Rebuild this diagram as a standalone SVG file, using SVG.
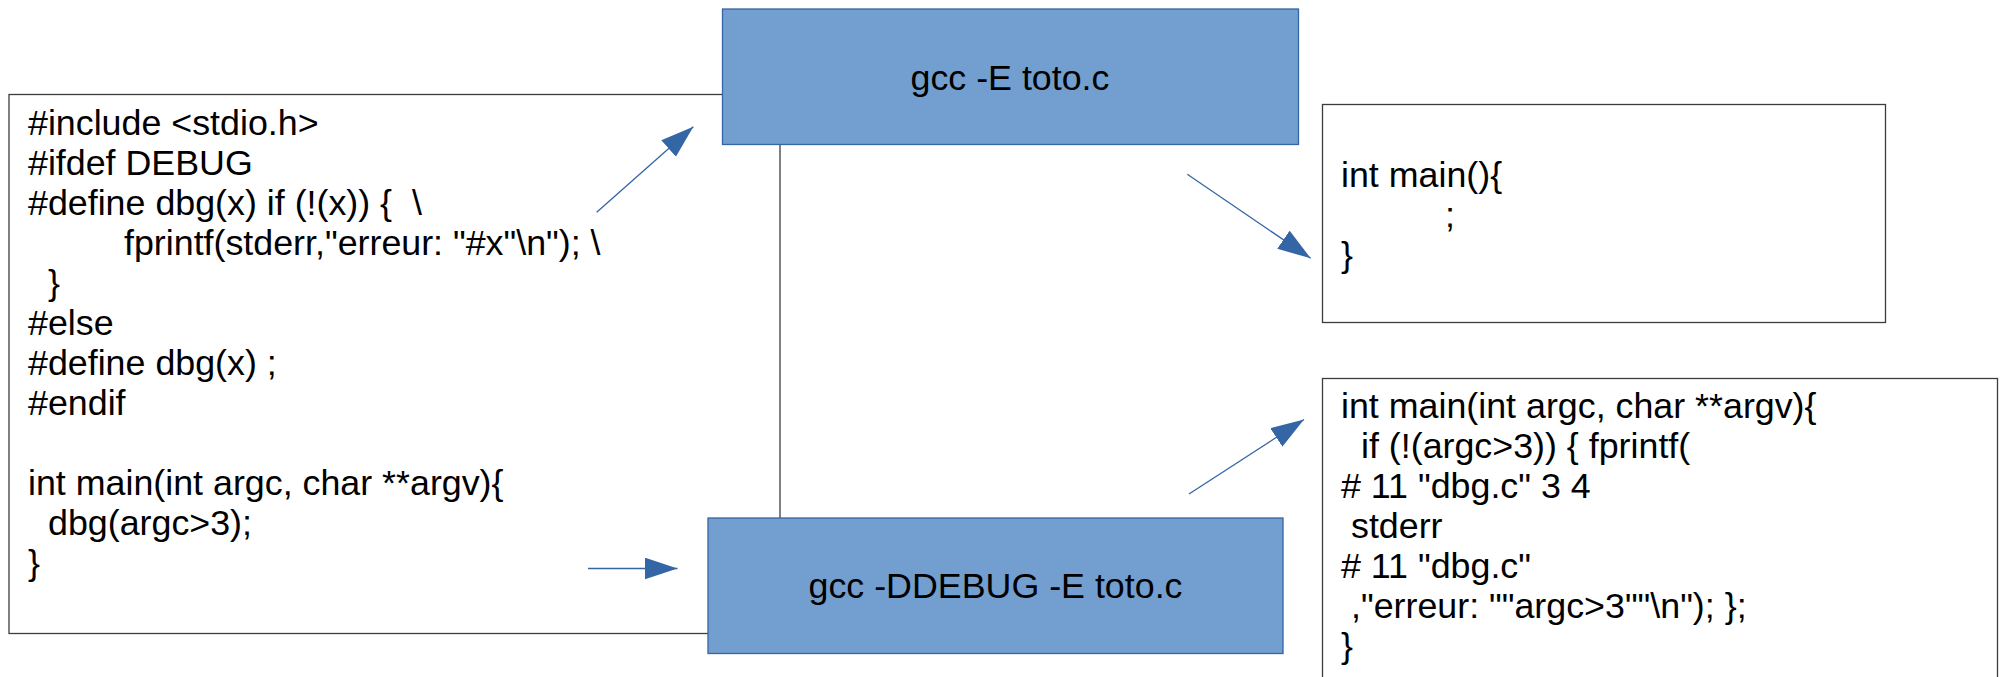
<svg xmlns="http://www.w3.org/2000/svg" width="2005" height="677" viewBox="0 0 2005 677">
<style>
.box{fill:#ffffff;stroke:#3c3c3c;stroke-width:1.3}
.cmd{fill:#729fcf;stroke:#3465a4;stroke-width:1.3}
.t{font-family:"Liberation Sans",Arial,sans-serif;font-size:35.8px;fill:#000000}
.c{text-anchor:middle}
.arr{stroke:#3465a4;stroke-width:1.3;fill:none;marker-end:url(#ah)}
</style>
<defs>
<marker id="ah" markerUnits="userSpaceOnUse" markerWidth="34" markerHeight="23" refX="33" refY="11" orient="auto">
<path d="M0,0 L33,11 L0,22 z" fill="#3465a4"/>
</marker>
</defs>
<rect width="2005" height="677" fill="#ffffff"/>
<g id="source">
<rect class="box" x="9" y="94.5" width="771" height="539"/>
<text class="t" x="28" y="135">#include &lt;stdio.h&gt;</text>
<text class="t" x="28" y="175">#ifdef DEBUG</text>
<text class="t" x="28" y="215" xml:space="preserve">#define dbg(x) if (!(x)) {  \</text>
<text class="t" x="124" y="255">fprintf(stderr,"erreur: "#x"\n"); \</text>
<text class="t" x="48" y="295">}</text>
<text class="t" x="28" y="335">#else</text>
<text class="t" x="28" y="375">#define dbg(x) ;</text>
<text class="t" x="28" y="415">#endif</text>
<text class="t" x="28" y="495">int main(int argc, char **argv){</text>
<text class="t" x="48" y="535">dbg(argc&gt;3);</text>
<text class="t" x="28" y="575">}</text>
</g>
<g id="out-nodebug">
<rect class="box" x="1322.5" y="104.5" width="563" height="218"/>
<text class="t" x="1341" y="187">int main(){</text>
<text class="t" x="1445" y="227">;</text>
<text class="t" x="1341" y="267">}</text>
</g>
<g id="out-debug">
<rect class="box" x="1322.5" y="378.5" width="675" height="320"/>
<text class="t" x="1341" y="418">int main(int argc, char **argv){</text>
<text class="t" x="1361" y="458">if (!(argc&gt;3)) { fprintf(</text>
<text class="t" x="1341" y="498"># 11 "dbg.c" 3 4</text>
<text class="t" x="1351" y="538">stderr</text>
<text class="t" x="1341" y="578"># 11 "dbg.c"</text>
<text class="t" x="1351" y="618">,"erreur: ""argc&gt;3""\n"); };</text>
<text class="t" x="1341" y="658">}</text>
</g>
<g id="gcc-e">
<rect class="cmd" x="722.5" y="9" width="576" height="135.5"/>
<text class="t c" x="1010" y="90">gcc -E toto.c</text>
</g>
<g id="gcc-ddebug">
<rect class="cmd" x="708" y="518" width="575" height="135.5"/>
<text class="t c" x="995.5" y="598">gcc -DDEBUG -E toto.c</text>
</g>
<g id="connectors">
<line class="arr" x1="596.7" y1="212.3" x2="693.3" y2="126.7"/>
<line class="arr" x1="588" y1="568.5" x2="677.5" y2="568.5"/>
<line class="arr" x1="1187.3" y1="174.3" x2="1310.7" y2="258.3"/>
<line class="arr" x1="1189" y1="494" x2="1304" y2="419.5"/>
</g>
</svg>
